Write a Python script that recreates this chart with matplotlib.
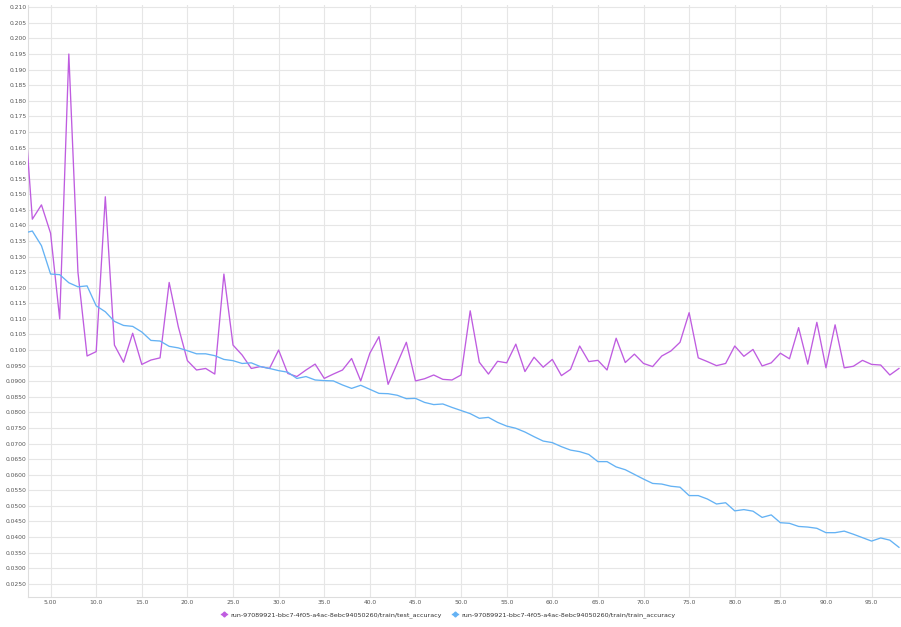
import matplotlib
matplotlib.use("Agg")
import matplotlib.pyplot as plt
from matplotlib.lines import Line2D

epochs = list(range(2, 99))

test_accuracy = [
    0.183, 0.142, 0.1466, 0.1375, 0.110, 0.195, 0.125, 0.0981, 0.0995, 0.1492,
    0.1016, 0.0961, 0.1054, 0.0954, 0.0968, 0.0975, 0.1217, 0.1075, 0.0966, 0.0936,
    0.0941, 0.0923, 0.1244, 0.1016, 0.0984, 0.0941, 0.0947, 0.0941, 0.1000, 0.0925,
    0.0915, 0.0936, 0.0955, 0.0909, 0.0923, 0.0936, 0.0973, 0.0901, 0.0990, 0.1043,
    0.0890, 0.0957, 0.1025, 0.0901, 0.0908, 0.0920, 0.0906, 0.0904, 0.0920, 0.1126,
    0.0961, 0.0923, 0.0964, 0.0959, 0.1019, 0.0931, 0.0977, 0.0945, 0.0970, 0.0918,
    0.0938, 0.1013, 0.0963, 0.0967, 0.0936, 0.1038, 0.0960, 0.0987, 0.0957, 0.0947,
    0.0981, 0.0997, 0.1025, 0.1120, 0.0975, 0.0963, 0.0950, 0.0957, 0.1013, 0.0980,
    0.1002, 0.0949, 0.0959, 0.0990, 0.0972, 0.1072, 0.0955, 0.1089, 0.0943, 0.1081,
    0.0943, 0.0948, 0.0967, 0.0954, 0.0952, 0.0920, 0.0941,
]

train_accuracy = [
    0.1375, 0.1382, 0.1335, 0.1244, 0.1242, 0.1216, 0.1203, 0.1206, 0.1142, 0.1123,
    0.1092, 0.1079, 0.1076, 0.1058, 0.1031, 0.1029, 0.1012, 0.1007, 0.0998, 0.0988,
    0.0988, 0.0982, 0.0970, 0.0966, 0.0957, 0.0959, 0.0947, 0.0941, 0.0934, 0.0929,
    0.0909, 0.0915, 0.0904, 0.0902, 0.0901, 0.0888, 0.0877, 0.0887, 0.0874, 0.0861,
    0.0860, 0.0855, 0.0844, 0.0845, 0.0832, 0.0825, 0.0827, 0.0816, 0.0806, 0.0796,
    0.0781, 0.0784, 0.0768, 0.0756, 0.0749, 0.0737, 0.0722, 0.0708, 0.0703, 0.0690,
    0.0679, 0.0674, 0.0665, 0.0642, 0.0642, 0.0625, 0.0616, 0.0601, 0.0586, 0.0572,
    0.0570, 0.0563, 0.0560, 0.0533, 0.0533, 0.0522, 0.0506, 0.0510, 0.0484, 0.0488,
    0.0483, 0.0463, 0.0471, 0.0446, 0.0444, 0.0434, 0.0432, 0.0428, 0.0414, 0.0414,
    0.0419, 0.0409, 0.0398, 0.0387, 0.0397, 0.0390, 0.0367,
]

x_ticks = [5, 10, 15, 20, 25, 30, 35, 40, 45, 50, 55, 60, 65, 70, 75, 80, 85, 90, 95]
x_tick_labels = ["5.00"] + ["%.1f" % v for v in x_ticks[1:]]
y_ticks = [0.025 + 0.005 * i for i in range(38)]
y_tick_labels = [("%.3f" % v) if v >= 0.0999 else ("%.4f" % v) for v in y_ticks]

series_names = [
    "run-97089921-bbc7-4f05-a4ac-8ebc94050260/train/test_accuracy",
    "run-97089921-bbc7-4f05-a4ac-8ebc94050260/train/train_accuracy",
]
colors = ["#bf5ce0", "#64b2f4"]

fig = plt.figure(figsize=(9.01, 6.27), dpi=100)
W, H = 901, 627
left_px, right_px, top_px, bottom_px = 28.5, 900.5, 5, 596.7
ax = fig.add_axes([left_px / W, 1 - bottom_px / H, (right_px - left_px) / W, (bottom_px - top_px) / H])

ax.plot(epochs, test_accuracy, color=colors[0], lw=0.95, zorder=3)
ax.plot(epochs, train_accuracy, color=colors[1], lw=0.95, zorder=3)

ax.set_xlim(2.58, 98.17)
ax.set_ylim(0.02085, 0.21074)
ax.set_xticks(x_ticks)
ax.set_xticklabels(x_tick_labels)
ax.set_yticks(y_ticks)
ax.set_yticklabels(y_tick_labels)
ax.tick_params(axis="both", length=0, labelsize=4.3, labelcolor="#555555")
ax.tick_params(axis="x", pad=2.5)
ax.tick_params(axis="y", pad=1.5)
ax.grid(True, color="#e6e6e6", lw=0.8, zorder=0)
for s in ["top", "right"]:
    ax.spines[s].set_visible(False)
for s in ["left", "bottom"]:
    ax.spines[s].set_color("#dddddd")
    ax.spines[s].set_linewidth(0.8)

handles = [
    Line2D([0], [0], color=colors[0], lw=1.0, marker="D", markersize=2.5),
    Line2D([0], [0], color=colors[1], lw=1.0, marker="D", markersize=2.5),
]
fig.legend(handles, series_names, loc="center", bbox_to_anchor=(448 / W, 1 - 615 / H),
           ncol=2, frameon=False, fontsize=4.6, handlelength=1.0, handletextpad=0.5,
           columnspacing=1.6, labelcolor="#333333")

fig.savefig("out.png", dpi=100)
